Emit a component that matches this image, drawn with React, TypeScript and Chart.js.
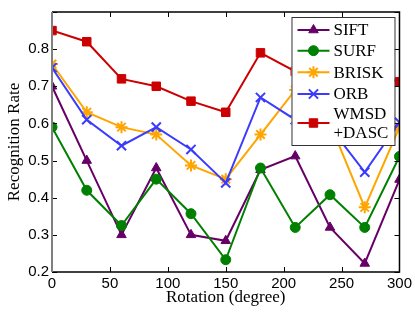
import React, { useEffect, useRef } from "react";
import { Chart, registerables } from "chart.js";
import { drawPoint } from "chart.js/helpers";

Chart.register(...registerables);

const rotations = [0, 30, 60, 90, 120, 150, 180, 210, 240, 270, 300];
const sift = [0.70, 0.50, 0.30, 0.48, 0.30, 0.284, 0.475, 0.512, 0.32, 0.223, 0.449];
const surf = [0.59, 0.42, 0.325, 0.45, 0.357, 0.233, 0.48, 0.32, 0.408, 0.32, 0.511];
const brisk = [0.76, 0.63, 0.59, 0.57, 0.487, 0.45, 0.57, 0.69, 0.60, 0.374, 0.59];
const orb = [0.75, 0.61, 0.54, 0.59, 0.53, 0.44, 0.67, 0.61, 0.59, 0.469, 0.603];
const wmsd = [0.85, 0.82, 0.72, 0.70, 0.66, 0.63, 0.79, 0.74, 0.77, 0.74, 0.712];

const seriesNames = ["SIFT", "SURF", "BRISK", "ORB", "WMSD\n+DASC"];
const seriesColors = ["#660066", "#008000", "#FFA500", "#3b3bff", "#cc0000"];
const seriesStyles = ["triangle", "circle", "star", "crossRot", "rect"];
const seriesRadius = [5.5, 5, 6, 6.5, 6];
const seriesValues = [sift, surf, brisk, orb, wmsd];

const xTitle = "Rotation (degree)";
const yTitle = "Recognition Rate";

const serif = "'Liberation Serif', 'Times New Roman', serif";
const sans = "'Liberation Sans', Arial, sans-serif";

const framePlugin = {
  id: "frame",
  afterDraw(chart: any) {
    const { ctx, chartArea: a, scales } = chart;
    const xs = scales.x, ys = scales.y;
    ctx.save();
    // inward ticks
    ctx.strokeStyle = "#000";
    ctx.lineWidth = 1;
    const tl = 5;
    ctx.beginPath();
    xs.ticks.forEach((t: any) => {
      const px = Math.round(xs.getPixelForValue(t.value)) + 0.5;
      ctx.moveTo(px, a.bottom); ctx.lineTo(px, a.bottom - tl);
      ctx.moveTo(px, a.top); ctx.lineTo(px, a.top + tl);
    });
    ys.ticks.forEach((t: any) => {
      const py = Math.round(ys.getPixelForValue(t.value)) + 0.5;
      ctx.moveTo(a.left, py); ctx.lineTo(a.left + tl, py);
      ctx.moveTo(a.right, py); ctx.lineTo(a.right - tl, py);
    });
    ctx.stroke();
    // frame
    ctx.lineWidth = 1.5;
    ctx.strokeStyle = "#000";
    ctx.beginPath();
    ctx.moveTo(a.left, a.top); ctx.lineTo(a.right, a.top);
    ctx.lineTo(a.right, a.bottom); ctx.lineTo(a.left, a.bottom);
    ctx.stroke();
    ctx.strokeStyle = "#808080";
    ctx.lineWidth = 2;
    ctx.beginPath();
    ctx.moveTo(a.left, a.top); ctx.lineTo(a.left, a.bottom);
    ctx.stroke();

    // axis titles
    ctx.fillStyle = "#000";
    ctx.font = `17px ${serif}`;
    ctx.textAlign = "center";
    ctx.textBaseline = "alphabetic";
    ctx.fillText(xTitle, (a.left + a.right) / 2, 302);
    ctx.save();
    ctx.translate(19, (a.top + a.bottom) / 2);
    ctx.rotate(-Math.PI / 2);
    ctx.fillText(yTitle, 0, 0);
    ctx.restore();

    // legend
    const lx0 = a.right - 108, lx1 = a.right - 5;
    const ly0 = a.top + 5, ly1 = a.top + 133;
    ctx.fillStyle = "#fff";
    ctx.fillRect(lx0, ly0, lx1 - lx0, ly1 - ly0);
    ctx.strokeStyle = "#333";
    ctx.lineWidth = 1;
    ctx.strokeRect(lx0 + 0.5, ly0 + 0.5, lx1 - lx0, ly1 - ly0);
    const rowY = [30, 50.7, 72.3, 94, 123];
    ctx.font = `17px ${serif}`;
    ctx.textAlign = "left";
    ctx.textBaseline = "middle";
    seriesNames.forEach((name, i) => {
      const y = rowY[i];
      ctx.strokeStyle = seriesColors[i];
      ctx.lineWidth = 2;
      ctx.beginPath();
      ctx.moveTo(lx0 + 6, y); ctx.lineTo(lx0 + 38, y);
      ctx.stroke();
      ctx.fillStyle = seriesColors[i];
      ctx.strokeStyle = seriesColors[i];
      const stroked = seriesStyles[i] === "star" || seriesStyles[i] === "crossRot";
      ctx.lineWidth = stroked ? 2 : 1;
      drawPoint(ctx, { pointStyle: seriesStyles[i], radius: seriesRadius[i], rotation: 0, borderWidth: ctx.lineWidth } as any, lx0 + 22, y);
      ctx.fillStyle = "#000";
      const lines = name.split("\n");
      if (lines.length === 1) {
        ctx.fillText(name, lx0 + 42, y + 1);
      } else {
        ctx.fillText(lines[0], lx0 + 42, y - 8);
        ctx.fillText(lines[1], lx0 + 42, y + 11);
      }
    });
    ctx.restore();
  },
};

export default function App() {
  const ref = useRef<HTMLCanvasElement | null>(null);
  useEffect(() => {
    if (!ref.current) return;
    const datasets = seriesValues.map((vals, i) => {
      const stroked = seriesStyles[i] === "star" || seriesStyles[i] === "crossRot";
      return {
        label: seriesNames[i],
        data: rotations.map((r, j) => ({ x: r, y: vals[j] })),
        borderColor: seriesColors[i],
        backgroundColor: seriesColors[i],
        borderWidth: 2,
        pointStyle: seriesStyles[i] as any,
        pointRadius: seriesRadius[i],
        pointBorderWidth: stroked ? 2 : 1,
        pointBackgroundColor: seriesColors[i],
        pointBorderColor: seriesColors[i],
        tension: 0,
        order: 5 - i,
      };
    });
    const chart = new Chart(ref.current, {
      type: "line",
      data: { datasets },
      plugins: [framePlugin],
      options: {
        animation: false,
        responsive: false,
        devicePixelRatio: 1,
        layout: { padding: { top: 11, right: 14, left: 0, bottom: 0 } },
        plugins: { legend: { display: false }, tooltip: { enabled: false } },
        scales: {
          x: {
            type: "linear",
            min: 0,
            max: 300,
            grid: { display: false, drawTicks: false },
            border: { display: false },
            ticks: { stepSize: 50, color: "#000", font: { family: sans, size: 15 }, padding: 3, maxRotation: 0 },
            afterFit: (s: any) => { s.height = 41; },
          },
          y: {
            type: "linear",
            min: 0.2,
            max: 0.9,
            grid: { display: false, drawTicks: false },
            border: { display: false },
            ticks: {
              stepSize: 0.1,
              color: "#000",
              font: { family: sans, size: 15 },
              padding: 3,
              callback: (v: any) => (v > 0.85 ? "" : Number(v).toFixed(1)),
            },
            afterFit: (s: any) => { s.width = 52; },
          },
        },
      },
    });
    return () => chart.destroy();
  }, []);
  return (
    <div style={{ position: "fixed", left: 0, top: 0, width: 415, height: 313, background: "#fff" }}>
      <canvas ref={ref} width={415} height={313} style={{ width: 415, height: 313 }} />
    </div>
  );
}
